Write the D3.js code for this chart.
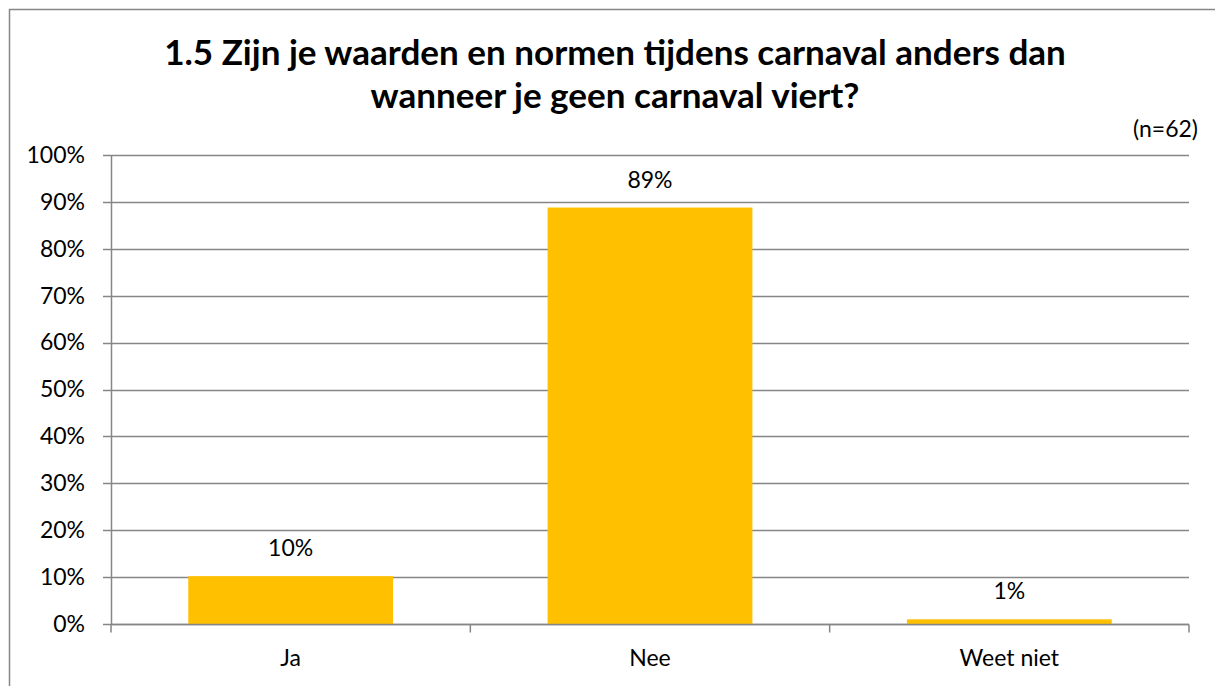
<!DOCTYPE html>
<html>
<head>
<meta charset="utf-8">
<script src="https://cdn.jsdelivr.net/npm/d3@7"></script>
<style>
  body { margin: 0; background: #fff; overflow: hidden; }
  svg { display: block; }
  text { font-family: Lato, "Open Sans", sans-serif; fill: #000; }
</style>
</head>
<body>
<div id="chart"></div>
<script>
  var categories = ['Ja', 'Nee', 'Weet niet'];
  var values = [10.2, 88.8, 1.0];
  var valueLabels = ['10%', '89%', '1%'];
  var yTicks = [0, 10, 20, 30, 40, 50, 60, 70, 80, 90, 100];
  var titleLines = ['1.5 Zijn je waarden en normen tijdens carnaval anders dan',
    'wanneer je geen carnaval viert?'];
  var note = '(n=62)';

  var width = 1215,
    height = 686;
  var margin = {top: 155, right: 26, bottom: 62, left: 111};

  var svg = d3.select('#chart')
    .append('svg')
    .attr('width', width)
    .attr('height', height);

  // outer frame of the chart: only top and left edges are inside the window
  svg.append('path')
    .attr('d', 'M9.5,' + height + 'V9.5H' + width)
    .attr('fill', 'none')
    .attr('stroke', '#868686')
    .attr('stroke-width', 1.5);

  var w = width - margin.left - margin.right,
    h = height - margin.top - margin.bottom;
  var g = svg.append('g')
    .attr('transform', 'translate(' + margin.left + ',' + margin.top + ')');

  var xScale = d3.scaleBand()
    .domain(categories)
    .range([0, w])
    .paddingInner(0.43)
    .paddingOuter(0.215);
  var xBand = d3.scaleBand()
    .domain(categories)
    .range([0, w]);
  var yScale = d3.scaleLinear()
    .domain([0, 100])
    .range([h, 0]);

  // gridlines
  g.selectAll('.grid')
    .data(yTicks)
    .enter()
    .append('line')
    .attr('x1', -8)
    .attr('x2', w)
    .attr('y1', function(d) { return Math.round(yScale(d)) + 0.5; })
    .attr('y2', function(d) { return Math.round(yScale(d)) + 0.5; })
    .attr('stroke', '#868686')
    .attr('stroke-width', 1.5);

  // y axis
  var yAxis = g.append('g')
    .call(d3.axisLeft(yScale)
      .tickValues(yTicks)
      .tickSize(0)
      .tickPadding(26)
      .tickFormat(function(d) { return d + '%'; }));
  yAxis.select('.domain').attr('stroke', '#868686').attr('stroke-width', 1.5);
  yAxis.selectAll('text').attr('font-size', 23).attr('font-family', 'Lato, sans-serif');

  // bars
  g.selectAll('.bar')
    .data(values)
    .enter()
    .append('rect')
    .attr('class', 'bar')
    .attr('fill', '#ffc000')
    .attr('x', function(d, i) { return xScale(categories[i]); })
    .attr('y', function(d) { return yScale(d); })
    .attr('width', xScale.bandwidth())
    .attr('height', function(d) { return h - yScale(d); });

  // x axis with ticks on category boundaries
  var xAxis = g.append('g')
    .attr('transform', 'translate(0,' + (h + 0.5) + ')');
  xAxis.append('line')
    .attr('x1', 0).attr('x2', w)
    .attr('stroke', '#868686').attr('stroke-width', 1.5);
  xAxis.selectAll('.xtick')
    .data(categories.concat(['end']))
    .enter()
    .append('line')
    .attr('x1', function(d, i) { return i < categories.length ? xBand(d) : w; })
    .attr('x2', function(d, i) { return i < categories.length ? xBand(d) : w; })
    .attr('y1', 0).attr('y2', 8)
    .attr('stroke', '#868686').attr('stroke-width', 1.5);
  xAxis.selectAll('.xlabel')
    .data(categories)
    .enter()
    .append('text')
    .attr('x', function(d) { return xBand(d) + xBand.bandwidth() / 2; })
    .attr('y', 41)
    .attr('text-anchor', 'middle')
    .attr('font-size', 23)
    .text(function(d) { return d; });

  // data labels
  g.selectAll('.vlabel')
    .data(values)
    .enter()
    .append('text')
    .attr('x', function(d, i) { return xScale(categories[i]) + xScale.bandwidth() / 2; })
    .attr('y', function(d) { return yScale(d) - 20; })
    .attr('text-anchor', 'middle')
    .attr('font-size', 23)
    .text(function(d, i) { return valueLabels[i]; });

  // title
  var title = svg.append('text')
    .attr('text-anchor', 'middle')
    .attr('font-weight', 'bold')
    .attr('font-size', 32);
  title.selectAll('tspan')
    .data(titleLines)
    .enter()
    .append('tspan')
    .attr('x', 615)
    .attr('y', function(d, i) { return 65 + i * 43; })
    .text(function(d) { return d; });
  // fit the first line to the reference width
  var first = title.select('tspan').node();
  var tw = first.getComputedTextLength();
  title.attr('font-size', 32 * 902 / tw);

  svg.append('text')
    .attr('x', 1198)
    .attr('y', 137)
    .attr('text-anchor', 'end')
    .attr('font-size', 23)
    .text(note);
</script>
</body>
</html>
